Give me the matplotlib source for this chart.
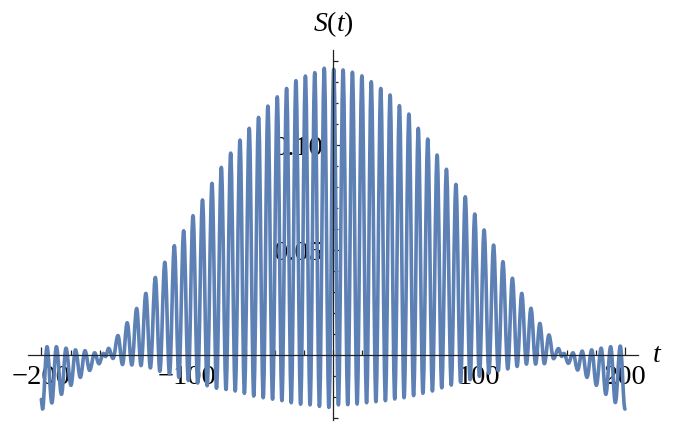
import matplotlib
matplotlib.use("Agg")
import matplotlib.pyplot as plt
from matplotlib.path import Path
from matplotlib.patches import PathPatch
from matplotlib.ticker import MultipleLocator, FixedLocator, FixedFormatter

plt.rcParams['mathtext.fontset'] = 'custom'
plt.rcParams['mathtext.rm'] = 'Liberation Serif'
plt.rcParams['mathtext.it'] = 'Liberation Serif:italic'
plt.rcParams['font.family'] = ['Liberation Serif', 'DejaVu Serif']

# Successive extrema (peaks and troughs) of S(t)
ext_t = [-200.0, -199.2, -196.1, -192.8, -189.7, -186.2, -183.1, -179.7, -176.6, -173.3,
         -170.1, -166.9, -163.5, -160.5, -157.5, -156.0, -153.9, -150.9, -147.5, -144.4,
         -141.2, -138.0, -134.7, -131.7, -128.4, -125.3, -121.9, -118.8, -115.4, -112.2,
         -108.9, -105.8, -102.5, -99.3, -96.1, -92.9, -89.6, -86.4, -83.1, -80.0,
         -76.7, -73.5, -70.3, -67.2, -63.9, -60.9, -57.6, -54.5, -51.2, -48.0,
         -44.8, -41.6, -38.4, -35.2, -32.0, -28.8, -25.6, -22.4, -19.1, -15.9,
         -12.7, -9.5, -6.2, -3.0, 0.3, 3.5, 6.7, 9.9, 13.1, 16.3,
         19.6, 22.8, 26.0, 29.2, 32.5, 35.7, 38.9, 42.1, 45.3, 48.5,
         51.8, 55.0, 58.2, 61.4, 64.7, 67.9, 71.1, 74.3, 77.5, 80.8,
         84.0, 87.2, 90.4, 93.7, 96.9, 100.1, 103.3, 106.6, 109.8, 113.0,
         116.2, 119.5, 122.7, 125.9, 129.1, 132.3, 135.4, 138.6, 141.5, 144.6,
         147.7, 150.9, 154.2, 156.5, 158.0, 161.0, 164.2, 167.4, 170.5, 173.8,
         177.0, 180.2, 183.5, 186.7, 190.0, 193.2, 196.6, 199.8]
ext_s = [-0.0210, -0.0256, 0.0041, -0.0227, 0.0041, -0.0186, 0.0034, -0.0143, 0.0026, -0.0105,
         0.0022, -0.0072, 0.0012, -0.0040, 0.0009, -0.0006, 0.0033, -0.0015, 0.0094, -0.0044,
         0.0155, -0.0046, 0.0223, -0.0049, 0.0295, -0.0060, 0.0371, -0.0076, 0.0443, -0.0090,
         0.0522, -0.0105, 0.0593, -0.0120, 0.0665, -0.0132, 0.0740, -0.0145, 0.0819, -0.0157,
         0.0895, -0.0163, 0.0963, -0.0170, 0.1025, -0.0181, 0.1081, -0.0194, 0.1133, -0.0202,
         0.1187, -0.0209, 0.1231, -0.0216, 0.1271, -0.0226, 0.1308, -0.0233, 0.1330, -0.0236,
         0.1346, -0.0243, 0.1367, -0.0248, 0.1362, -0.0236, 0.1359, -0.0235, 0.1348, -0.0232,
         0.1331, -0.0226, 0.1303, -0.0221, 0.1271, -0.0216, 0.1240, -0.0208, 0.1189, -0.0202,
         0.1149, -0.0192, 0.1081, -0.0181, 0.1030, -0.0170, 0.0954, -0.0155, 0.0886, -0.0142,
         0.0814, -0.0128, 0.0755, -0.0116, 0.0673, -0.0100, 0.0597, -0.0086, 0.0525, -0.0073,
         0.0446, -0.0065, 0.0367, -0.0053, 0.0295, -0.0042, 0.0224, -0.0042, 0.0152, -0.0040,
         0.0097, -0.0016, 0.0032, -0.0005, 0.0009, -0.0038, 0.0012, -0.0070, 0.0020, -0.0105,
         0.0026, -0.0143, 0.0034, -0.0186, 0.0041, -0.0225, 0.0044, -0.0256]

x_major = [-200, -100, 100, 200]
x_major_labels = ["\u2212200", "\u2212100", "100", "200"]
y_major = [0.05, 0.10]
y_major_labels = ["0.05", "0.10"]

W, H = 674, 428
fig = plt.figure(figsize=(W / 100, H / 100), dpi=100)
ax = fig.add_axes([28.2 / W, 7.6 / H, 610.2 / W, 370.6 / H])
ax.set_xlim(-209, 209)
ax.set_ylim(-0.031, 0.1455)

# smooth curve through successive extrema (horizontal tangents at extrema)
h = 0.3634
verts = [(ext_t[0], ext_s[0]), (ext_t[1], ext_s[1])]
codes = [Path.MOVETO, Path.LINETO]
for i in range(1, len(ext_t) - 1):
    t0, s0 = ext_t[i], ext_s[i]
    t1, s1 = ext_t[i + 1], ext_s[i + 1]
    d = t1 - t0
    verts += [(t0 + h * d, s0), (t1 - h * d, s1), (t1, s1)]
    codes += [Path.CURVE4, Path.CURVE4, Path.CURVE4]
line_col = (0.368417, 0.506779, 0.709798)
ax.add_patch(PathPatch(Path(verts, codes), fill=False, edgecolor=line_col,
                       linewidth=2.6, joinstyle='round', capstyle='round', zorder=2))

for s in ['top', 'right']:
    ax.spines[s].set_visible(False)
ax.spines['left'].set_position(('data', 0))
ax.spines['bottom'].set_position(('data', 0))
for s in ['left', 'bottom']:
    ax.spines[s].set_linewidth(0.9)
    ax.spines[s].set_color('#222222')

ax.xaxis.set_major_locator(FixedLocator(x_major))
ax.xaxis.set_major_formatter(FixedFormatter(x_major_labels))
ax.xaxis.set_minor_locator(MultipleLocator(20))
ax.yaxis.set_major_locator(FixedLocator(y_major))
ax.yaxis.set_major_formatter(FixedFormatter(y_major_labels))
ax.yaxis.set_minor_locator(MultipleLocator(0.01))
ax.tick_params(which='both', direction='in', color='#222222', width=0.9)
ax.tick_params(which='major', length=6, labelsize=20.5, pad=7)
ax.tick_params(which='minor', length=3.5)
ax.tick_params(axis='y', which='major', pad=7)

fig.text(333 / W, 1 - 24 / H, r'$S(t)$', ha='center', va='center', fontsize=20)
fig.text(657 / W, 1 - 355 / H, r'$t$', ha='center', va='center', fontsize=20)

fig.savefig('out.png', dpi=100)
